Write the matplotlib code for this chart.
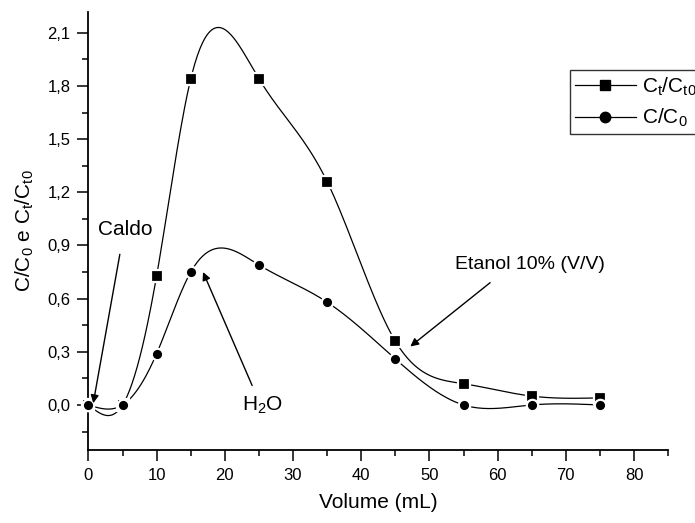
import numpy as np
import matplotlib
matplotlib.use("Agg")
import matplotlib.pyplot as plt
from matplotlib.ticker import MultipleLocator

plt.rcParams['font.family'] = ['Liberation Sans', 'DejaVu Sans']
plt.rcParams['mathtext.fontset'] = 'custom'
plt.rcParams['mathtext.rm'] = 'Liberation Sans'
plt.rcParams['mathtext.it'] = 'Liberation Sans'

volume = [0, 5, 10, 15, 25, 35, 45, 55, 65, 75]
ct_ct0 = [0.0, 0.0, 0.73, 1.84, 1.84, 1.26, 0.36, 0.12, 0.05, 0.04]
c_c0 = [0.0, 0.0, 0.29, 0.75, 0.79, 0.58, 0.26, 0.0, 0.0, 0.0]
yticks = [0.0, 0.3, 0.6, 0.9, 1.2, 1.5, 1.8, 2.1]
xticks = [0, 10, 20, 30, 40, 50, 60, 70, 80]


def natural_spline(x, y, n=400):
    x = np.asarray(x, float); y = np.asarray(y, float)
    k = len(x); h = np.diff(x)
    A = np.zeros((k, k)); b = np.zeros(k)
    A[0, 0] = 1; A[-1, -1] = 1
    for i in range(1, k - 1):
        A[i, i - 1] = h[i - 1]; A[i, i] = 2 * (h[i - 1] + h[i]); A[i, i + 1] = h[i]
        b[i] = 3 * ((y[i + 1] - y[i]) / h[i] - (y[i] - y[i - 1]) / h[i - 1])
    c = np.linalg.solve(A, b)
    xs = np.linspace(x[0], x[-1], n); ys = np.empty_like(xs)
    for j, xv in enumerate(xs):
        i = min(np.searchsorted(x, xv, side='right') - 1, k - 2)
        bb = (y[i + 1] - y[i]) / h[i] - h[i] * (2 * c[i] + c[i + 1]) / 3
        d = (c[i + 1] - c[i]) / (3 * h[i])
        t = xv - x[i]
        ys[j] = y[i] + bb * t + c[i] * t ** 2 + d * t ** 3
    return xs, ys


fig = plt.figure(figsize=(6.95, 5.23), dpi=100)
ax = fig.add_axes([0.1273, 0.1396, 0.834, 0.8384])

for yv, mk, lab in [(ct_ct0, 's', r'C$_t$/C$_{t0}$'), (c_c0, 'o', r'C/C$_0$')]:
    xs, ys = natural_spline(volume, yv)
    ax.plot(xs, ys, color='black', lw=0.9, zorder=2)
    ax.plot(volume, yv, linestyle='none', marker=mk, color='black', ms=8.2,
            mec='white', mew=1.6, zorder=3, clip_on=False)
    ax.plot([], [], color='black', lw=0.9, marker=mk, ms=7.5, label=lab)

ax.set_xlim(0, 85)
ax.set_ylim(-0.254, 2.22)
ax.set_xticks(xticks)
ax.set_yticks(yticks)
ax.set_yticklabels([f"{v:.1f}".replace('.', ',') for v in yticks])
ax.xaxis.set_minor_locator(MultipleLocator(5))
ax.yaxis.set_minor_locator(MultipleLocator(0.15))
ax.tick_params(which='both', direction='out', width=1.1, labelsize=12)
ax.tick_params(which='major', length=8, pad=5)
ax.tick_params(which='minor', length=4.5)
for s in ['top', 'right']:
    ax.spines[s].set_visible(False)
for s in ['left', 'bottom']:
    ax.spines[s].set_linewidth(1.3)

ax.set_xlabel('Volume (mL)', fontsize=15, labelpad=7)
ax.set_ylabel(r'C/C$_0$ e C$_t$/C$_{t0}$', fontsize=15, labelpad=8)

ap = dict(arrowstyle='-|>', color='black', lw=1.0, mutation_scale=12,
          shrinkA=0, shrinkB=0)
ax.text(5.45, 0.99, 'Caldo', fontsize=15, ha='center', va='center')
ax.annotate('', xy=(0.7, 0.01), xytext=(4.6, 0.85), arrowprops=ap)
ax.text(25.6, 0.0, r'H$_2$O', fontsize=15, ha='center', va='center')
ax.annotate('', xy=(16.8, 0.75), xytext=(24.0, 0.11), arrowprops=ap)
ax.text(64.8, 0.79, 'Etanol 10% (V/V)', fontsize=14, ha='center', va='center')
ax.annotate('', xy=(47.2, 0.33), xytext=(58.9, 0.69), arrowprops=ap)

leg = fig.legend(loc='upper left', bbox_to_anchor=(0.820, 0.866), fontsize=15,
                 frameon=True, fancybox=False, edgecolor='black', handlelength=2.9,
                 borderpad=0.25, labelspacing=0.45, handletextpad=0.3,
                 borderaxespad=0)
leg.get_frame().set_linewidth(1.0)

fig.savefig('out.png', dpi=100)
